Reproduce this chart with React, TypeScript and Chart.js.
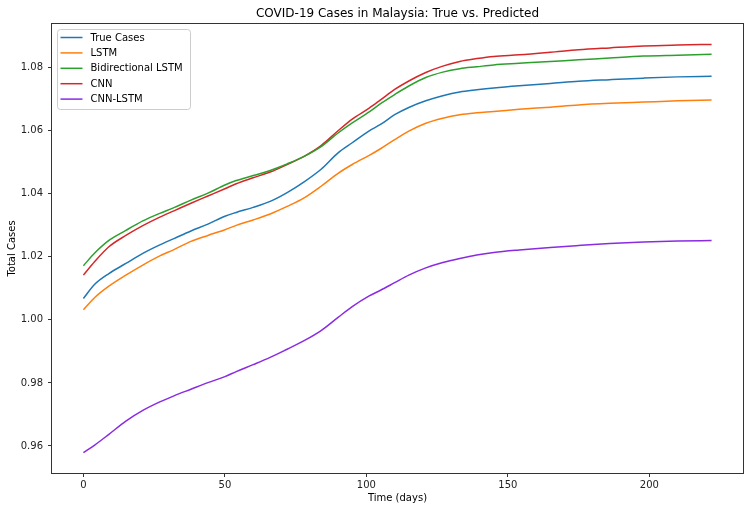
import React, { useEffect, useRef } from "react";
import { Chart, registerables } from "chart.js";

Chart.register(...registerables);

const days = [0, 4, 9, 15, 21, 27, 32, 38, 44, 50, 54, 60, 66, 72, 78, 84, 90, 95, 101, 105, 110, 115, 121, 127, 133, 139, 145, 154, 165, 175, 186, 198, 210, 222];

const trueCases = [1.0068, 1.0113, 1.0147, 1.0179, 1.0211, 1.0238, 1.0258, 1.0282, 1.0304, 1.0329, 1.0341, 1.0357, 1.0376, 1.0404, 1.0438, 1.0478, 1.053, 1.0562, 1.06, 1.062, 1.0651, 1.0674, 1.0695, 1.0711, 1.0723, 1.073, 1.0736, 1.0743, 1.075, 1.0757, 1.0762, 1.0767, 1.0771, 1.0773];

const lstm = [1.0032, 1.0071, 1.0107, 1.0142, 1.0174, 1.0203, 1.0223, 1.0249, 1.0268, 1.0286, 1.03, 1.0317, 1.0336, 1.036, 1.0387, 1.0424, 1.0465, 1.0493, 1.0522, 1.0543, 1.0572, 1.0599, 1.0624, 1.064, 1.0651, 1.0657, 1.0661, 1.0668, 1.0675, 1.0682, 1.0687, 1.0691, 1.0695, 1.0698];

const biLstm = [1.0172, 1.0212, 1.0252, 1.0284, 1.0314, 1.0338, 1.0356, 1.038, 1.0402, 1.0428, 1.0442, 1.0458, 1.0474, 1.0495, 1.0519, 1.055, 1.0593, 1.0625, 1.066, 1.0686, 1.0715, 1.0742, 1.0769, 1.0786, 1.0797, 1.0803, 1.0809, 1.0814, 1.082, 1.0825, 1.0831, 1.0837, 1.084, 1.0843];

const cnn = [1.0142, 1.0185, 1.0232, 1.0268, 1.0299, 1.0326, 1.0346, 1.037, 1.0393, 1.0416, 1.0432, 1.0451, 1.0469, 1.0493, 1.0519, 1.0553, 1.06, 1.0637, 1.0672, 1.0698, 1.0731, 1.0758, 1.0785, 1.0805, 1.082, 1.0829, 1.0836, 1.0841, 1.0849, 1.0857, 1.0863, 1.0869, 1.0872, 1.0874];

const cnnLstm = [0.9579, 0.9603, 0.9637, 0.9679, 0.9713, 0.9740, 0.9759, 0.978, 0.9801, 0.982, 0.9836, 0.9858, 0.9881, 0.9907, 0.9934, 0.9966, 1.0008, 1.0042, 1.0076, 1.0094, 1.0118, 1.0142, 1.0165, 1.0182, 1.0195, 1.0206, 1.0214, 1.0222, 1.023, 1.0236, 1.0242, 1.0247, 1.025, 1.0252];

const seriesLabels = ["True Cases", "LSTM", "Bidirectional LSTM", "CNN", "CNN-LSTM"];
const seriesColors = ["#1f77b4", "#ff7f0e", "#2ca02c", "#d62728", "#8a2be2"];
const xTicks = [0, 50, 100, 150, 200];
const yTicks = [0.96, 0.98, 1.0, 1.02, 1.04, 1.06, 1.08];
const chartTitle = "COVID-19 Cases in Malaysia: True vs. Predicted";
const xTitle = "Time (days)";
const yTitle = "Total Cases";

const FONT = "'DejaVu Sans', sans-serif";

const decorPlugin = {
  id: "decor",
  afterDatasetsDraw(chart: any) {
    const { ctx, chartArea: a } = chart;
    ctx.save();
    ctx.strokeStyle = "#333";
    ctx.lineWidth = 1;
    ctx.strokeRect(Math.round(a.left) - 0.5, Math.round(a.top) - 0.5, Math.round(a.right - a.left) + 1, Math.round(a.bottom - a.top) + 1);
    const lx = a.left + 5.5;
    const ly = a.top + 5.5;
    const lw = 133;
    const lh = 80;
    const r = 3;
    ctx.beginPath();
    ctx.moveTo(lx + r, ly);
    ctx.lineTo(lx + lw - r, ly);
    ctx.quadraticCurveTo(lx + lw, ly, lx + lw, ly + r);
    ctx.lineTo(lx + lw, ly + lh - r);
    ctx.quadraticCurveTo(lx + lw, ly + lh, lx + lw - r, ly + lh);
    ctx.lineTo(lx + r, ly + lh);
    ctx.quadraticCurveTo(lx, ly + lh, lx, ly + lh - r);
    ctx.lineTo(lx, ly + r);
    ctx.quadraticCurveTo(lx, ly, lx + r, ly);
    ctx.closePath();
    ctx.fillStyle = "rgba(255,255,255,0.8)";
    ctx.fill();
    ctx.strokeStyle = "#cccccc";
    ctx.stroke();
    ctx.font = `10px ${FONT}`;
    ctx.textBaseline = "middle";
    ctx.textAlign = "left";
    chart.data.datasets.forEach((ds: any, i: number) => {
      const yy = ly + 8 + i * 15.4;
      ctx.strokeStyle = ds.borderColor;
      ctx.lineWidth = 1.5;
      ctx.beginPath();
      ctx.moveTo(lx + 3, yy);
      ctx.lineTo(lx + 25, yy);
      ctx.stroke();
      ctx.fillStyle = "#000";
      ctx.fillText(ds.label, lx + 33, yy + 0.5);
    });
    ctx.restore();
  },
  afterDraw(chart: any) {
    const { ctx, chartArea: a } = chart;
    ctx.save();
    ctx.font = `12px ${FONT}`;
    ctx.fillStyle = "#000";
    ctx.textAlign = "center";
    ctx.textBaseline = "middle";
    ctx.fillText(chartTitle, (a.left + a.right) / 2, 13.5);
    ctx.restore();
  },
};

export default function App() {
  const ref = useRef<HTMLCanvasElement | null>(null);

  useEffect(() => {
    if (!ref.current) return;
    const all = [...trueCases, ...lstm, ...biLstm, ...cnn, ...cnnLstm];
    const yMinD = Math.min(...all);
    const yMaxD = Math.max(...all);
    const yPad = (yMaxD - yMinD) * 0.05;
    const xMinD = Math.min(...days);
    const xMaxD = Math.max(...days);
    const xPad = (xMaxD - xMinD) * 0.05;
    const series = [trueCases, lstm, biLstm, cnn, cnnLstm];

    const tickFont = { family: FONT, size: 10 };
    const chart = new Chart(ref.current, {
      type: "line",
      data: {
        datasets: series.map((arr, i) => ({
          label: seriesLabels[i],
          data: days.map((d, j) => ({ x: d, y: arr[j] })),
          borderColor: seriesColors[i],
          backgroundColor: seriesColors[i],
          borderWidth: 1.5,
          pointRadius: 0,
          cubicInterpolationMode: "monotone",
          fill: false,
        })),
      },
      options: {
        animation: false,
        responsive: false,
        devicePixelRatio: 1,
        layout: { padding: { top: 24, right: 7, left: 0, bottom: 0 } },
        plugins: {
          legend: { display: false },
          tooltip: { enabled: false },
          title: { display: false },
        },
        scales: {
          x: {
            type: "linear",
            min: xMinD - xPad,
            max: xMaxD + xPad,
            afterBuildTicks: (s: any) => {
              s.ticks = xTicks.map((v) => ({ value: v }));
            },
            afterFit: (s: any) => {
              s.height = 39;
            },
            ticks: {
              font: tickFont,
              color: "#222",
              padding: 2,
              maxRotation: 0,
              autoSkip: false,
              callback: (v: any) => String(v),
            },
            grid: {
              display: true,
              drawOnChartArea: false,
              drawTicks: true,
              tickLength: 4,
              tickColor: "#333",
            },
            border: { display: false },
            title: {
              display: true,
              text: xTitle,
              font: tickFont,
              color: "#000",
              padding: { top: 0, bottom: 8 },
            },
          },
          y: {
            type: "linear",
            min: yMinD - yPad,
            max: yMaxD + yPad,
            afterBuildTicks: (s: any) => {
              s.ticks = yTicks.map((v) => ({ value: v }));
            },
            afterFit: (s: any) => {
              s.width = 52;
            },
            ticks: {
              font: tickFont,
              color: "#222",
              padding: 5,
              autoSkip: false,
              callback: (v: any) => Number(v).toFixed(2),
            },
            grid: {
              display: true,
              drawOnChartArea: false,
              drawTicks: true,
              tickLength: 4,
              tickColor: "#333",
            },
            border: { display: false },
            title: {
              display: true,
              text: yTitle,
              font: tickFont,
              color: "#000",
              padding: { top: 6, bottom: 0 },
            },
          },
        },
      },
      plugins: [decorPlugin],
    } as any);
    return () => chart.destroy();
  }, []);

  return (
    <div style={{ position: "fixed", left: 0, top: 0, width: 750, height: 512, background: "#fff" }}>
      <canvas ref={ref} width={750} height={512} style={{ display: "block" }} />
    </div>
  );
}
